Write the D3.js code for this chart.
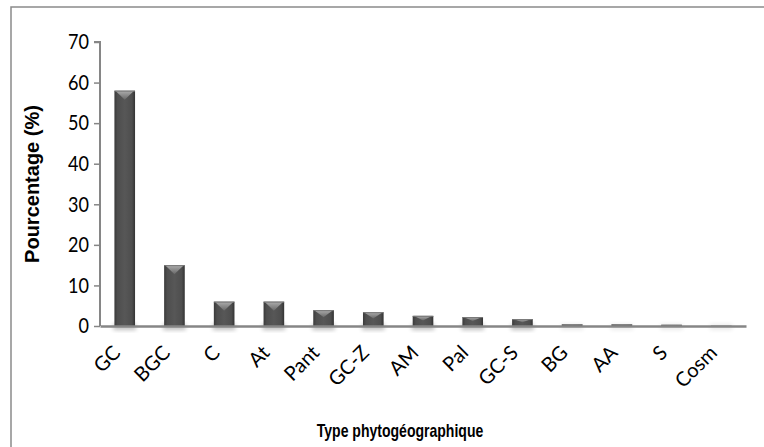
<!DOCTYPE html>
<html><head><meta charset="utf-8">
<script src="https://cdn.jsdelivr.net/npm/d3@7"></script>
<style>html,body{margin:0;padding:0;background:#fff;}svg{display:block;}</style>
</head><body>
<svg id="c" width="764" height="447"></svg>
<script>
const categories = ["GC","BGC","C","At","Pant","GC-Z","AM","Pal","GC-S","BG","AA","S","Cosm"];
const values = [58, 15, 6, 6, 3.9, 3.4, 2.5, 2.2, 1.7, 0.4, 0.4, 0.3, 0.05];
const yTicks = [0,10,20,30,40,50,60,70];
const yTitle = "Pourcentage (%)";
const xTitle = "Type phytogéographique";

(function(){
const svg = d3.select("#c");
const mL = 100, mR = 746, mT = 42, mB = 326;
const x = d3.scaleBand().domain(categories).range([mL, mR]).paddingInner(0.585).paddingOuter(0.29);
const y = d3.scaleLinear().domain([0,70]).range([mB, mT]);

const defs = svg.append("defs");
const g1 = defs.append("linearGradient").attr("id","barg").attr("x1","0").attr("x2","1").attr("y1","0").attr("y2","0");
[[0,"#3a3a3a"],[0.15,"#4e4e4e"],[0.5,"#575757"],[0.85,"#4e4e4e"],[1,"#333"]].forEach(s=>g1.append("stop").attr("offset",s[0]).attr("stop-color",s[1]));
const g2 = defs.append("linearGradient").attr("id","capg").attr("x1","0").attr("x2","0").attr("y1","0").attr("y2","1");
[[0,"#b8b8b8"],[1,"#6a6a6a"]].forEach(s=>g2.append("stop").attr("offset",s[0]).attr("stop-color",s[1]));
const f = defs.append("filter").attr("id","sh").attr("x","-50%").attr("y","-50%").attr("width","200%").attr("height","200%");
f.append("feGaussianBlur").attr("stdDeviation",2);

// frame
svg.append("path").attr("d","M11,764 L11,7 L764,7").attr("fill","none").attr("stroke","#8a8a8a").attr("stroke-width",1.5);

// shadows
svg.append("g").selectAll("rect").data(categories).join("rect")
  .attr("x", d=>x(d)-1).attr("width", x.bandwidth()+2)
  .attr("y", mB-2).attr("height", 6)
  .attr("fill","#000").attr("opacity",(d,i)=>values[i]>1?0.25:0.08).attr("filter","url(#sh)");

// bars
const bars = svg.append("g");
categories.forEach((c,i)=>{
  const x0 = x(c), w = x.bandwidth(), yt = y(values[i]), h = mB - yt;
  bars.append("rect").attr("x",x0).attr("y",yt).attr("width",w).attr("height",h).attr("fill","url(#barg)");
  const ch = Math.min(9, h*0.45);
  bars.append("path").attr("d",`M${x0+1},${yt} L${x0+w-1},${yt} L${x0+w/2},${yt+ch} Z`).attr("fill","url(#capg)").attr("opacity",0.9);
  bars.append("line").attr("x1",x0).attr("x2",x0+w).attr("y1",yt+0.5).attr("y2",yt+0.5).attr("stroke","#777").attr("stroke-width",1);
});

// y axis
const ya = svg.append("g").attr("transform",`translate(${mL},0)`)
  .call(d3.axisLeft(y).tickValues(yTicks).tickSize(6).tickPadding(6));
ya.select(".domain").attr("stroke","#868686").attr("stroke-width",2).attr("d",`M-6,${mT}H0V${mB}`);
ya.selectAll(".tick line").attr("stroke","#868686").attr("stroke-width",1.5);
ya.selectAll(".tick text").attr("font-family","Lato, 'Open Sans', sans-serif").attr("font-size",21).attr("fill","#000")
  .attr("x",0).attr("transform","translate(-11,0) scale(0.86,1)");

// x axis
const xa = svg.append("g").attr("transform",`translate(0,${mB})`)
  .call(d3.axisBottom(x).tickSize(0).tickPadding(0));
xa.select(".domain").attr("stroke","#868686").attr("stroke-width",2.5);
xa.selectAll(".tick text").attr("font-family","Lato, 'Open Sans', sans-serif").attr("font-size",20).attr("fill","#000")
  .attr("text-anchor","end").attr("dy",0).attr("y",0)
  .attr("transform","translate(-3,28) rotate(-45)");

// titles
svg.append("text").attr("transform",`translate(39,${184}) rotate(-90)`).attr("text-anchor","middle")
  .attr("font-family","'Liberation Sans', Arial, sans-serif").attr("font-weight","bold").attr("font-size",20).text(yTitle);
svg.append("text").attr("transform","translate(400,437) scale(0.78,1)").attr("text-anchor","middle")
  .attr("font-family","'Liberation Sans', Arial, sans-serif").attr("font-weight","bold").attr("font-size",18).text(xTitle);
})();
</script>
</body></html>
